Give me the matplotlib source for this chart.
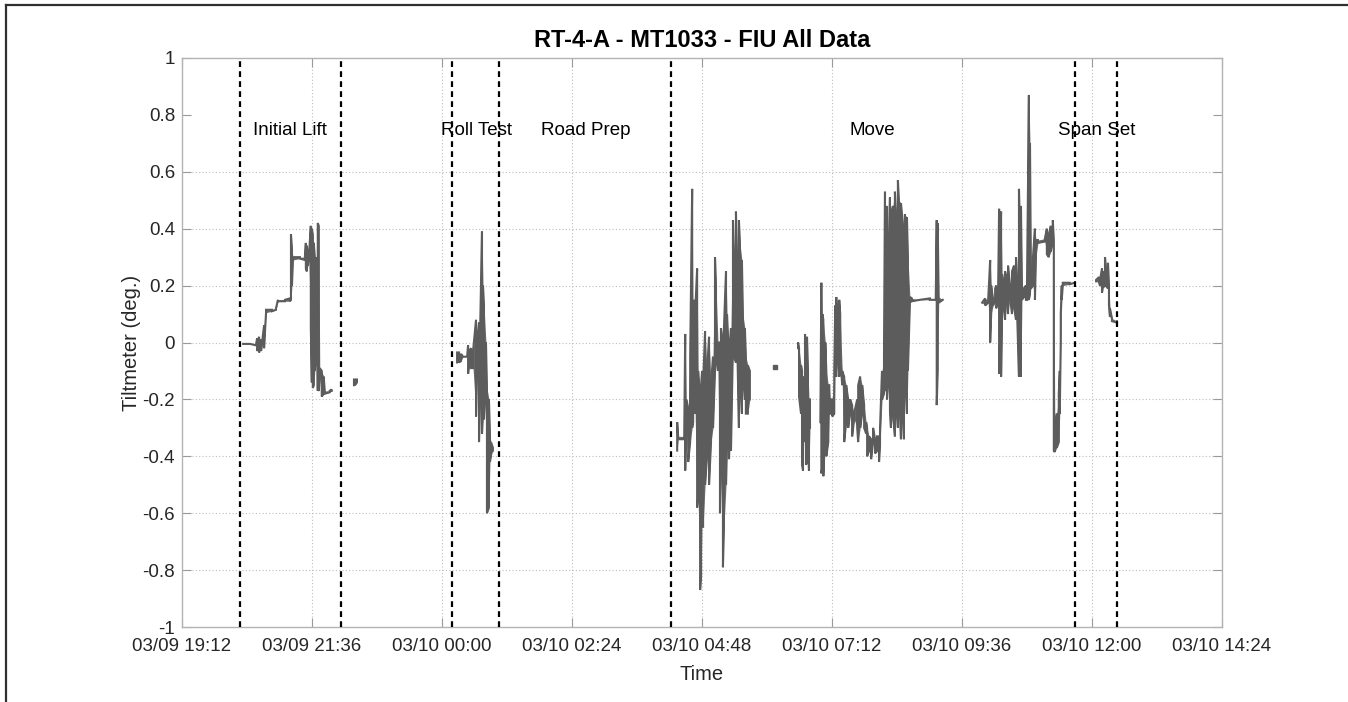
import numpy as np
import matplotlib
matplotlib.use("Agg")
import matplotlib.pyplot as plt
import matplotlib.dates as mdates
from matplotlib.lines import Line2D
from matplotlib.ticker import FuncFormatter
from datetime import datetime

plt.rcParams['font.family'] = ['Liberation Sans', 'DejaVu Sans']
plt.rcParams['axes.unicode_minus'] = False

START = datetime(2018, 3, 9, 19, 12)
END = datetime(2018, 3, 10, 14, 24)

# Tiltmeter log, one row per logging interval:
# (minutes after 03/09 19:12, lowest reading, highest reading) in degrees
lift = [
    (67.7, -0.005, -0.005), (75.5, -0.005, -0.005), (82.1, -0.01, -0.005),
    (83.2, -0.03, 0.015), (84.3, -0.02, 0.01), (85.4, -0.035, 0.02),
    (86.5, -0.02, 0.01), (87.6, -0.03, 0.005), (88.7, 0.0, 0.0),
    (90.9, -0.02, 0.06), (93.1, 0.105, 0.115), (99.7, 0.11, 0.115),
    (104.1, 0.115, 0.12), (106.3, 0.145, 0.15), (114.0, 0.145, 0.15),
    (119.5, 0.145, 0.155), (120.7, 0.15, 0.38), (121.8, 0.2, 0.33),
    (122.9, 0.29, 0.3), (130.6, 0.295, 0.3), (136.1, 0.29, 0.3),
    (137.2, 0.26, 0.35), (138.3, 0.25, 0.34), (139.4, 0.27, 0.3),
    (140.5, 0.29, 0.3), (142.7, 0.05, 0.41), (143.8, -0.14, 0.40),
    (144.9, -0.16, 0.38), (146.0, -0.15, 0.35), (147.1, -0.10, 0.30),
    (148.2, -0.05, 0.28), (149.3, 0.25, 0.30), (150.4, -0.17, 0.42),
    (151.5, -0.17, 0.41), (152.6, -0.12, -0.09), (154.8, -0.19, -0.10),
    (157.0, -0.18, -0.12), (158.1, -0.18, -0.17), (163.6, -0.175, -0.17),
    (165.8, -0.17, -0.165),
]
lift_after = [(190.5, -0.15, -0.13), (191.6, -0.15, -0.13), (193.8, -0.14, -0.13)]

roll = [
    (304.7, -0.07, -0.035), (306.9, -0.07, -0.035), (309.1, -0.065, -0.04),
    (311.3, -0.05, -0.05), (315.8, -0.05, -0.05), (316.9, -0.11, -0.01),
    (318.0, -0.08, -0.03), (320.2, -0.09, -0.02), (322.4, -0.09, -0.03),
    (325.7, -0.26, 0.08), (326.8, -0.10, 0.0), (329.0, -0.35, 0.07),
    (330.1, -0.20, 0.02), (332.3, -0.32, 0.39), (333.4, -0.25, 0.20),
    (334.5, -0.27, 0.13), (336.7, -0.15, 0.0), (337.8, -0.60, -0.16),
    (340.0, -0.58, -0.20), (341.1, -0.42, -0.32), (342.2, -0.40, -0.35),
    (344.4, -0.38, -0.37),
]

move_a = [
    (548.5, -0.38, -0.28), (549.6, -0.34, -0.33), (556.3, -0.34, -0.33),
    (557.4, -0.45, 0.03), (558.5, -0.30, -0.20), (560.7, -0.42, -0.23),
    (562.9, -0.35, -0.05), (565.1, -0.30, 0.54), (566.2, -0.28, 0.0),
    (567.3, -0.20, 0.15), (568.4, -0.25, 0.10), (570.6, -0.58, 0.26),
    (571.7, -0.55, -0.10), (573.9, -0.87, -0.20), (575.0, -0.82, -0.15),
    (576.1, -0.60, -0.10), (577.2, -0.65, -0.15), (579.4, -0.50, 0.04),
    (581.6, -0.40, -0.10), (583.8, -0.50, 0.02), (586.0, -0.35, -0.15),
    (588.2, -0.30, -0.05), (590.4, -0.10, 0.30), (591.5, -0.05, 0.20),
    (593.7, -0.10, 0.0), (595.9, -0.60, 0.0), (597.0, -0.45, 0.05),
    (599.2, -0.79, 0.0), (600.3, -0.65, 0.05), (602.6, -0.50, 0.25),
    (603.7, -0.35, 0.10), (605.9, -0.41, -0.06), (607.0, -0.30, 0.0),
    (608.1, -0.38, 0.05), (610.3, 0.0, 0.43), (611.4, -0.05, 0.30),
    (613.6, -0.07, 0.46), (614.7, 0.05, 0.30), (616.9, -0.30, 0.43),
    (618.0, -0.10, 0.35), (620.2, -0.25, 0.29), (621.3, -0.10, 0.10),
    (623.5, -0.20, 0.05), (624.6, -0.25, -0.05), (626.8, -0.25, -0.08),
    (629.0, -0.20, -0.10),
]
move_stop = [(656.9, -0.086, -0.086)]

move_b = [
    (682.4, -0.02, 0.0), (683.5, -0.19, -0.02), (685.7, -0.25, -0.08),
    (686.8, -0.43, -0.10), (687.9, -0.45, -0.15), (689.0, -0.30, -0.12),
    (690.1, -0.35, 0.03), (691.2, -0.43, -0.10), (692.3, -0.42, 0.02),
    (693.4, -0.35, -0.10), (694.5, -0.45, -0.20), (695.6, -0.30, -0.20),
]

move_c = [
    (707.1, -0.28, -0.28), (708.2, -0.46, 0.21), (709.3, -0.44, 0.10),
    (710.4, -0.47, 0.08), (712.6, -0.30, 0.0), (713.7, -0.40, -0.10),
    (715.9, -0.35, -0.15), (717.0, -0.25, -0.15), (718.1, -0.25, -0.20),
    (720.3, -0.26, -0.20), (722.5, -0.25, -0.10), (723.6, -0.05, 0.13),
    (724.7, -0.12, 0.16), (726.9, -0.05, 0.05), (728.0, -0.12, 0.15),
    (729.1, -0.05, 0.10), (731.3, -0.15, -0.10), (733.5, -0.35, -0.12),
    (735.7, -0.28, -0.15), (737.9, -0.30, -0.20), (740.1, -0.25, -0.20),
    (742.3, -0.33, -0.22), (744.5, -0.27, -0.25), (747.9, -0.30, -0.20),
    (749.0, -0.35, -0.15), (751.2, -0.30, -0.12), (753.4, -0.25, -0.15),
    (755.6, -0.30, -0.22), (757.8, -0.32, -0.28), (758.9, -0.40, -0.30),
    (761.1, -0.38, -0.33), (763.3, -0.41, -0.34), (765.5, -0.35, -0.30),
    (767.7, -0.39, -0.34), (769.9, -0.38, -0.33), (772.1, -0.42, -0.33),
    (773.2, -0.36, -0.30), (775.4, -0.20, -0.10), (777.6, -0.18, -0.05),
    (778.7, -0.17, 0.53), (779.8, -0.10, 0.30), (780.9, -0.20, 0.48),
    (782.0, -0.15, 0.20), (784.2, -0.24, 0.51), (785.3, -0.30, 0.45),
    (787.5, -0.25, 0.48), (789.7, -0.33, 0.53), (790.8, -0.20, 0.45),
    (793.0, -0.30, 0.57), (794.1, -0.15, 0.50), (796.4, -0.34, 0.49),
    (797.5, -0.20, 0.45), (799.7, -0.34, 0.40), (800.8, -0.10, 0.45),
    (803.0, -0.25, 0.44), (804.1, -0.10, 0.30), (806.3, 0.14, 0.16),
    (808.5, 0.145, 0.155), (817.3, 0.15, 0.15), (828.3, 0.15, 0.155),
    (834.9, 0.15, 0.15), (836.0, -0.22, 0.43), (837.1, -0.10, 0.42),
    (838.2, 0.14, 0.16), (842.7, 0.15, 0.15),
]

move_d = [
    (886.3, 0.14, 0.14), (889.6, 0.13, 0.155), (893.0, 0.14, 0.15),
    (895.2, 0.0, 0.29), (896.3, 0.10, 0.20), (898.5, 0.13, 0.15),
    (900.7, 0.15, 0.19), (901.8, 0.12, 0.20), (904.0, 0.14, 0.18),
    (905.1, -0.11, 0.47), (906.2, 0.0, 0.35), (907.3, -0.12, 0.46),
    (908.4, 0.10, 0.24), (910.6, 0.12, 0.20), (911.7, 0.08, 0.25),
    (913.9, 0.15, 0.22), (915.0, 0.10, 0.27), (917.2, 0.16, 0.20),
    (919.4, 0.10, 0.25), (921.6, 0.13, 0.27), (923.8, 0.08, 0.30),
    (924.9, 0.12, 0.22), (927.1, -0.12, 0.54), (928.2, 0.05, 0.40),
    (929.3, -0.12, 0.48), (930.4, 0.15, 0.20), (932.6, 0.16, 0.19),
    (934.8, 0.15, 0.20), (935.9, 0.15, 0.17), (938.1, 0.15, 0.87),
    (939.3, 0.17, 0.70), (940.4, 0.19, 0.20), (942.6, 0.20, 0.30),
    (944.8, 0.15, 0.40), (945.9, 0.30, 0.36), (948.1, 0.35, 0.36),
    (955.8, 0.355, 0.365), (958.0, 0.31, 0.40), (960.2, 0.30, 0.38),
    (962.4, 0.32, 0.41), (964.6, 0.36, 0.43), (965.7, -0.38, 0.36),
    (966.8, -0.385, -0.30), (969.0, -0.37, -0.25), (971.2, -0.35, -0.18),
    (972.3, -0.25, -0.10), (973.4, 0.0, 0.10), (974.5, 0.15, 0.20),
    (975.6, 0.20, 0.21), (983.3, 0.205, 0.21), (988.9, 0.21, 0.21),
]

span = [
    (1012.5, 0.215, 0.22), (1015.8, 0.21, 0.23), (1016.9, 0.20, 0.22),
    (1019.1, 0.175, 0.26), (1020.2, 0.20, 0.22), (1021.3, 0.195, 0.25),
    (1022.4, 0.20, 0.30), (1023.5, 0.20, 0.26), (1025.7, 0.19, 0.28),
    (1026.8, 0.13, 0.20), (1027.9, 0.09, 0.12), (1030.1, 0.075, 0.085),
    (1035.7, 0.07, 0.075),
]

# phase boundaries and labels (minutes after start)
phase_bounds = [64.2, 176.2, 299.1, 351.1, 541.6, 989.2, 1035.7]
phase_names = ["Initial Lift", "Roll Test", "Road Prep", "Move", "Span Set"]
phase_label_t = [120.0, 326.0, 447.0, 765.0, 1013.0]
phase_label_y = 0.745

x_ticks = ["2018-03-09 19:12", "2018-03-09 21:36", "2018-03-10 00:00",
           "2018-03-10 02:24", "2018-03-10 04:48", "2018-03-10 07:12",
           "2018-03-10 09:36", "2018-03-10 12:00", "2018-03-10 14:24"]
y_ticks = [-1, -0.8, -0.6, -0.4, -0.2, 0, 0.2, 0.4, 0.6, 0.8, 1]

T0 = mdates.date2num(START)


def to_num(minutes):
    return T0 + np.asarray(minutes, dtype=float) / 1440.0


def split(rows):
    arr = np.array(rows, dtype=float)
    return to_num(arr[:, 0]), arr[:, 1], arr[:, 2]


def trace(rows):
    """Vertical stroke per interval from low to high reading, alternating direction."""
    t, lo, hi = split(rows)
    pair = np.column_stack([lo, hi])
    pair[1::2] = pair[1::2, ::-1]
    return np.repeat(t, 2), pair.ravel()


fig = plt.figure(figsize=(13.48, 7.02), dpi=100)
ax = fig.add_axes([182 / 1348, 1 - 627 / 702, 1040 / 1348, 569 / 702])

line_color = '#5c5c5c'
for rows in [lift, lift_after, roll, move_a, move_b, move_c, move_d, span]:
    t, lo, hi = split(rows)
    ax.fill_between(t, lo, hi, color='#6a6a6a', lw=0, zorder=2)
    xs, ys = trace(rows)
    ax.plot(xs, ys, color=line_color, lw=1.5, solid_joinstyle='miter', zorder=2)
t, lo, hi = split(move_stop)
ax.plot(t, lo, marker='s', ms=2.5, color=line_color, lw=0)

for b in phase_bounds:
    ax.axvline(to_num(b), color='black', lw=1.6, dashes=(2.6, 1.9), zorder=3)

for name, t in zip(phase_names, phase_label_t):
    ax.text(to_num(t), phase_label_y, name, ha='center', va='center',
            fontsize=13.5, color='black')

ax.set_xlim(mdates.date2num(START), mdates.date2num(END))
ax.set_ylim(-1, 1)
ax.set_xticks([mdates.date2num(datetime.strptime(s, "%Y-%m-%d %H:%M")) for s in x_ticks])
ax.xaxis.set_major_formatter(mdates.DateFormatter('%m/%d %H:%M'))
ax.set_yticks(y_ticks)
ax.yaxis.set_major_formatter(FuncFormatter(lambda v, p: f"{v:g}"))

ax.grid(True, linestyle=(0, (1, 2)), color='#bdbdbd', lw=0.8)
ygl = ax.yaxis.get_gridlines()
for i in (0, 9, 10):
    ygl[i].set_visible(False)
xgl = ax.xaxis.get_gridlines()
for i in (0, len(xgl) - 1):
    xgl[i].set_visible(False)

for s in ax.spines.values():
    s.set_color('#b3b3b3')
    s.set_linewidth(1.0)
ax.tick_params(direction='in', length=6.5, width=0.8, color='#9a9a9a',
               top=True, right=True, labelsize=13.5, labelcolor='#262626')
ax.tick_params(axis='x', pad=8)
ax.tick_params(axis='y', pad=5)

ax.set_title("RT-4-A - MT1033 - FIU All Data", fontsize=17, fontweight='bold',
             color='black', pad=8)
ax.set_xlabel("Time", fontsize=14.5, color='#262626', labelpad=7)
ax.set_ylabel("Tiltmeter (deg.)", fontsize=14.5, color='#262626', labelpad=1)

# figure frame along the top and left edges
fig.add_artist(Line2D([6 / 1348, 6 / 1348], [0, 1 - 5 / 702], transform=fig.transFigure,
                      color='#303030', lw=1.6))
fig.add_artist(Line2D([6 / 1348, 1], [1 - 5 / 702, 1 - 5 / 702], transform=fig.transFigure,
                      color='#303030', lw=1.6))

fig.savefig("out.png", dpi=100)
